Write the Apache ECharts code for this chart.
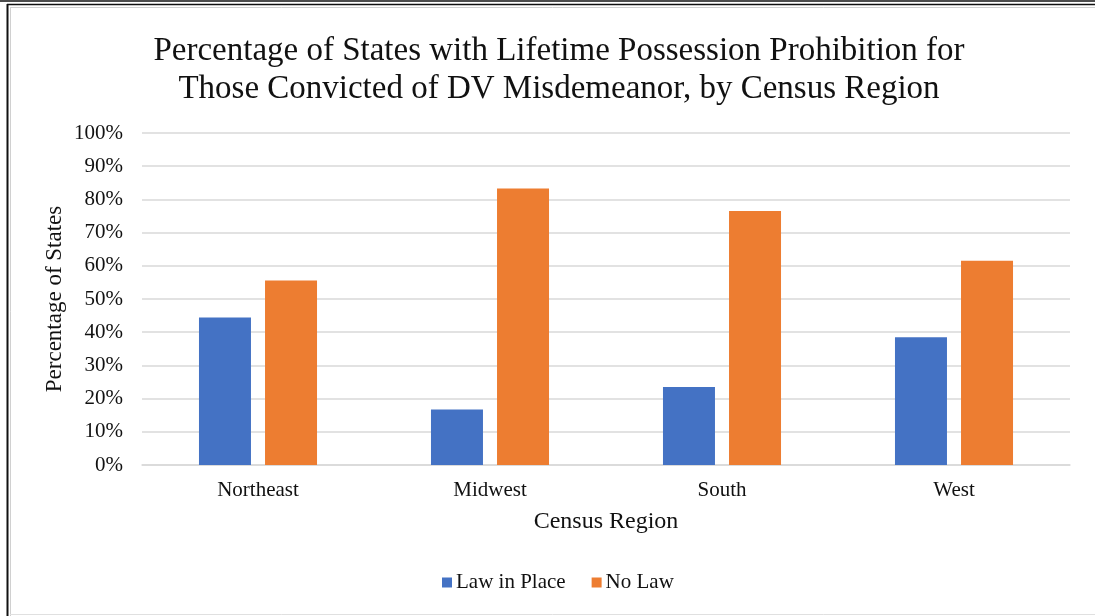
<!DOCTYPE html>
<html>
<head>
<meta charset="utf-8">
<script src="https://cdn.jsdelivr.net/npm/echarts@6/dist/echarts.min.js"></script>
<style>
  html, body { margin: 0; padding: 0; background: #fff; }
  #chart { width: 1095px; height: 616px; }
</style>
</head>
<body>
<div id="chart"></div>
<script>
// Census regions and share of states (percent) with / without a lifetime possession ban
const regions = ['Northeast', 'Midwest', 'South', 'West'];
const lawInPlace = [44.4, 16.7, 23.5, 38.5];
const noLaw = [55.6, 83.3, 76.5, 61.5];
const seriesNames = ['Law in Place', 'No Law'];

const serif = '"Liberation Serif", "Times New Roman", serif';
const chart = echarts.init(document.getElementById('chart'));

chart.setOption({
  animation: false,
  backgroundColor: '#ffffff',
  title: {
    text: 'Percentage of States with Lifetime Possession Prohibition for\nThose Convicted of DV Misdemeanor, by Census Region',
    left: 554,
    textAlign: 'center',
    top: 27,
    textStyle: { fontFamily: serif, fontSize: 33, fontWeight: 'normal', color: '#111', lineHeight: 38 }
  },
  legend: {
    data: seriesNames,
    left: 437,
    top: 567,
    itemWidth: 10,
    itemHeight: 10,
    itemGap: 26,
    icon: 'rect',
    textStyle: { fontFamily: serif, fontSize: 21, color: '#111', padding: [0, 0, 0, -1] }
  },
  grid: { left: 142, right: 25, top: 133, bottom: 151, containLabel: false },
  xAxis: {
    type: 'category',
    data: regions,
    name: 'Census Region',
    nameLocation: 'middle',
    nameGap: 45,
    nameTextStyle: { fontFamily: serif, fontSize: 24, color: '#111' },
    axisLine: { lineStyle: { color: '#d9d9d9', width: 1.5 } },
    axisTick: { show: false },
    axisLabel: { fontFamily: serif, fontSize: 21, color: '#111', margin: 15 }
  },
  yAxis: {
    type: 'value',
    min: 0,
    max: 100,
    interval: 10,
    name: 'Percentage of States',
    nameLocation: 'middle',
    nameGap: 76,
    nameMoveOverlap: false,
    nameRotate: 90,
    nameTextStyle: { fontFamily: serif, fontSize: 23, color: '#111' },
    axisLine: { show: false },
    axisTick: { show: false },
    axisLabel: { fontFamily: serif, fontSize: 21, color: '#111', margin: 19, formatter: '{value}%' },
    splitLine: { lineStyle: { color: '#d9d9d9', width: 1.5 } }
  },
  series: [
    {
      name: seriesNames[0],
      type: 'bar',
      data: lawInPlace,
      barWidth: 52,
      barGap: '27%',
      itemStyle: { color: '#4472C4' }
    },
    {
      name: seriesNames[1],
      type: 'bar',
      data: noLaw,
      barWidth: 52,
      itemStyle: { color: '#ED7D31' }
    }
  ],
  graphic: [
    // page frame around the chart
    { type: 'line', shape: { x1: 0, y1: 1, x2: 1095, y2: 1 }, style: { stroke: '#111', lineWidth: 1.5 } },
    { type: 'line', shape: { x1: 7, y1: 4.5, x2: 1095, y2: 4.5 }, style: { stroke: '#111', lineWidth: 1.5 } },
    { type: 'line', shape: { x1: 7.5, y1: 4, x2: 7.5, y2: 616 }, style: { stroke: '#111', lineWidth: 2 } },
    { type: 'line', shape: { x1: 10.5, y1: 7.5, x2: 10.5, y2: 616 }, style: { stroke: '#d0d0d0', lineWidth: 1 } },
    { type: 'line', shape: { x1: 10, y1: 7.5, x2: 1095, y2: 7.5 }, style: { stroke: '#d0d0d0', lineWidth: 1 } },
    { type: 'line', shape: { x1: 10, y1: 614.5, x2: 1095, y2: 614.5 }, style: { stroke: '#e0e0e0', lineWidth: 1 } }
  ]
});
</script>
</body>
</html>
